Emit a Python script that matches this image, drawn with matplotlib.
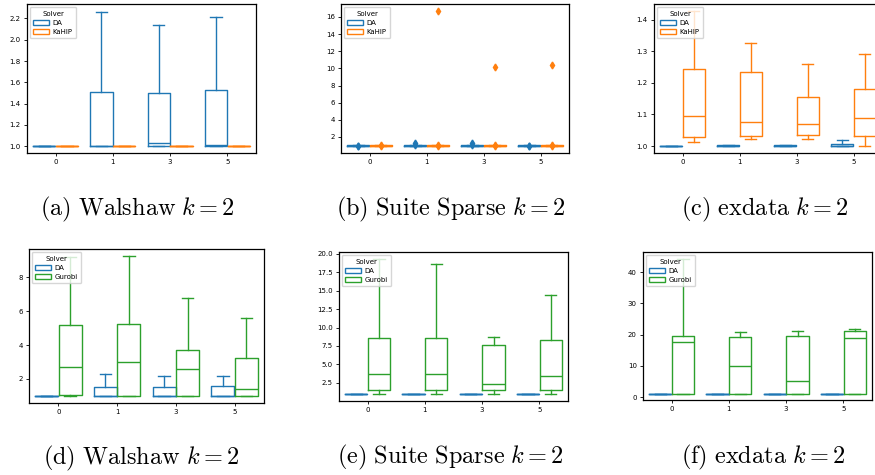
import matplotlib
matplotlib.use("Agg")
import matplotlib.pyplot as plt
from matplotlib.patches import Patch

plt.rcParams['mathtext.fontset'] = 'cm'

categories = ["0", "1", "3", "5"]

# five-number stats per category: [whislo, q1, median, q3, whishi]
walshaw_da    = [[1.0, 1.0, 1.0, 1.0, 1.0], [1.0, 1.0, 1.0, 1.505, 2.265],
                 [1.0, 1.0, 1.033, 1.50, 2.14], [1.0, 1.0, 1.01, 1.53, 2.21]]
walshaw_kahip = [[1.0, 1.0, 1.0, 1.0, 1.0], [1.0, 1.0, 1.0, 1.0, 1.0],
                 [1.0, 1.0, 1.0, 1.0, 1.0], [1.0, 1.0, 1.0, 1.0, 1.0]]

suite_da      = [[1.0, 1.0, 1.0, 1.04, 1.04], [1.0, 1.0, 1.0, 1.04, 1.04],
                 [1.0, 1.0, 1.0, 1.04, 1.04], [1.0, 1.0, 1.0, 1.04, 1.04]]
suite_da_fliers = [[0.95, 1.0], [1.05, 1.25], [1.05, 1.25], [0.95, 1.0]]
suite_kahip   = [[1.0, 1.0, 1.0, 1.04, 1.04], [1.0, 1.0, 1.0, 1.04, 1.04],
                 [1.0, 1.0, 1.0, 1.04, 1.04], [1.0, 1.0, 1.0, 1.04, 1.04]]
suite_kahip_fliers = [[0.95, 1.05], [0.95, 1.05, 16.65], [0.95, 1.05, 10.2], [0.95, 1.05, 10.4]]

exdata_da     = [[1.0, 1.0, 1.0, 1.0, 1.0], [1.0, 1.0, 1.0, 1.002, 1.002],
                 [1.0, 1.0, 1.0, 1.002, 1.002], [1.0, 1.0, 1.0, 1.007, 1.018]]
exdata_kahip  = [[1.012, 1.030, 1.096, 1.244, 1.428], [1.022, 1.033, 1.075, 1.233, 1.328],
                 [1.023, 1.034, 1.069, 1.156, 1.259], [1.0, 1.033, 1.088, 1.180, 1.292]]

walshaw_da2   = [[1.0, 1.0, 1.0, 1.0, 1.0], [1.0, 1.0, 1.0, 1.53, 2.28],
                 [1.0, 1.0, 1.0, 1.50, 2.16], [1.0, 1.0, 1.0, 1.57, 2.20]]
walshaw_gurobi = [[1.0, 1.08, 2.69, 5.20, 9.22], [1.0, 1.0, 3.0, 5.26, 9.24],
                  [1.0, 1.0, 2.57, 3.73, 6.80], [1.0, 1.0, 1.39, 3.22, 5.62]]

suite_da2     = [[1.0, 1.0, 1.0, 1.0, 1.0], [1.0, 1.0, 1.0, 1.0, 1.0],
                 [1.0, 1.0, 1.0, 1.0, 1.0], [1.0, 1.0, 1.0, 1.0, 1.0]]
suite_gurobi  = [[1.0, 1.50, 3.73, 8.62, 19.35], [1.0, 1.45, 3.73, 8.62, 18.64],
                 [1.0, 1.45, 2.36, 7.59, 8.71], [1.0, 1.45, 3.45, 8.27, 14.47]]

exdata_da2    = [[1.0, 1.0, 1.0, 1.0, 1.0], [1.0, 1.0, 1.0, 1.0, 1.0],
                 [1.0, 1.0, 1.0, 1.0, 1.0], [1.0, 1.0, 1.0, 1.0, 1.0]]
exdata_gurobi = [[1.0, 1.0, 17.5, 19.7, 44.3], [1.0, 1.0, 9.8, 19.25, 20.75],
                 [1.0, 1.0, 5.0, 19.7, 21.3], [1.0, 1.0, 18.8, 21.2, 21.8]]

captions = [r"$\mathrm{(a)\ Walshaw}\ k=2$", r"$\mathrm{(b)\ Suite\ Sparse}\ k=2$",
            r"$\mathrm{(c)\ exdata}\ k=2$", r"$\mathrm{(d)\ Walshaw}\ k=2$",
            r"$\mathrm{(e)\ Suite\ Sparse}\ k=2$", r"$\mathrm{(f)\ exdata}\ k=2$"]

C_DA, C_KA, C_GU = "#1f77b4", "#ff7f0e", "#2ca02c"

W, H = 875, 475
fig = plt.figure(figsize=(W / 100, H / 100), dpi=100)

def add_ax(x0, y0, x1, y1):
    return fig.add_axes([x0 / W, 1 - y1 / H, (x1 - x0) / W, (y1 - y0) / H])

def stats_list(rows, fliers=None):
    out = []
    for i, r in enumerate(rows):
        out.append(dict(whislo=r[0], q1=r[1], med=r[2], q3=r[3], whishi=r[4],
                        fliers=(fliers[i] if fliers else [])))
    return out

def panel(box, da, other, other_name, other_color, ylim, yticks, ytl,
          da_fl=None, ot_fl=None):
    ax = add_ax(*box)
    n = len(categories)
    for rows, fl, col, off in [(da, da_fl, C_DA, -0.2), (other, ot_fl, other_color, 0.2)]:
        props = dict(color=col, linewidth=1.0)
        ax.bxp(stats_list(rows, fl), positions=[i + off for i in range(n)],
               widths=0.39, showfliers=fl is not None, patch_artist=False,
               boxprops=props, whiskerprops=props, capprops=props,
               medianprops=props,
               flierprops=dict(marker='d', markerfacecolor=col, markeredgecolor=col,
                               markersize=3.5, linestyle='none'),
               manage_ticks=False)
    ax.set_xlim(-0.5, n - 0.5)
    ax.set_ylim(*ylim)
    ax.set_xticks(range(n))
    ax.set_xticklabels(categories)
    ax.set_yticks(yticks)
    ax.set_yticklabels(ytl)
    ax.tick_params(labelsize=5, length=2.5, width=0.6, pad=2)
    for s in ax.spines.values():
        s.set_linewidth(0.9)
    handles = [Patch(facecolor='none', edgecolor=C_DA, linewidth=1.0, label="DA"),
               Patch(facecolor='none', edgecolor=other_color, linewidth=1.0, label=other_name)]
    ax.legend(handles=handles, title="Solver", loc="upper left", fontsize=5,
              title_fontsize=5, borderpad=0.5, labelspacing=0.45,
              handlelength=2.2, handleheight=0.8, handletextpad=0.6,
              borderaxespad=0.4, framealpha=0.8)
    return ax

def fmt(vals, d):
    return [f"{v:.{d}f}" for v in vals]

yt = [1.0, 1.2, 1.4, 1.6, 1.8, 2.0, 2.2]
panel((27, 4.3, 256, 153), walshaw_da, walshaw_kahip, "KaHIP", C_KA,
      (0.937, 2.333), yt, fmt(yt, 1))
yt = [2, 4, 6, 8, 10, 12, 14, 16]
panel((341, 4.3, 569, 153), suite_da, suite_kahip, "KaHIP", C_KA,
      (0.13, 17.48), yt, [str(v) for v in yt], suite_da_fliers, suite_kahip_fliers)
yt = [1.0, 1.1, 1.2, 1.3, 1.4]
panel((654, 4.3, 882, 153), exdata_da, exdata_kahip, "KaHIP", C_KA,
      (0.978, 1.449), yt, fmt(yt, 1))
yt = [2, 4, 6, 8]
panel((29, 249.3, 264, 402.7), walshaw_da2, walshaw_gurobi, "Gurobi", C_GU,
      (0.60, 9.65), yt, [str(v) for v in yt])
yt = [2.5, 5.0, 7.5, 10.0, 12.5, 15.0, 17.5, 20.0]
panel((339, 252.3, 568, 400.7), suite_da2, suite_gurobi, "Gurobi", C_GU,
      (0.05, 20.23), yt, fmt(yt, 1))
yt = [0, 10, 20, 30, 40]
panel((643, 252.3, 872, 400), exdata_da2, exdata_gurobi, "Gurobi", C_GU,
      (-0.96, 46.4), yt, [str(v) for v in yt])

cap_pos = [(137, 209), (451, 209), (765, 209), (141, 458), (450, 457), (763, 457)]
for (cx, cy), t in zip(cap_pos, captions):
    fig.text(cx / W, 1 - cy / H, t, ha='center', va='center', fontsize=17.5)

fig.savefig("out.png", dpi=100)
